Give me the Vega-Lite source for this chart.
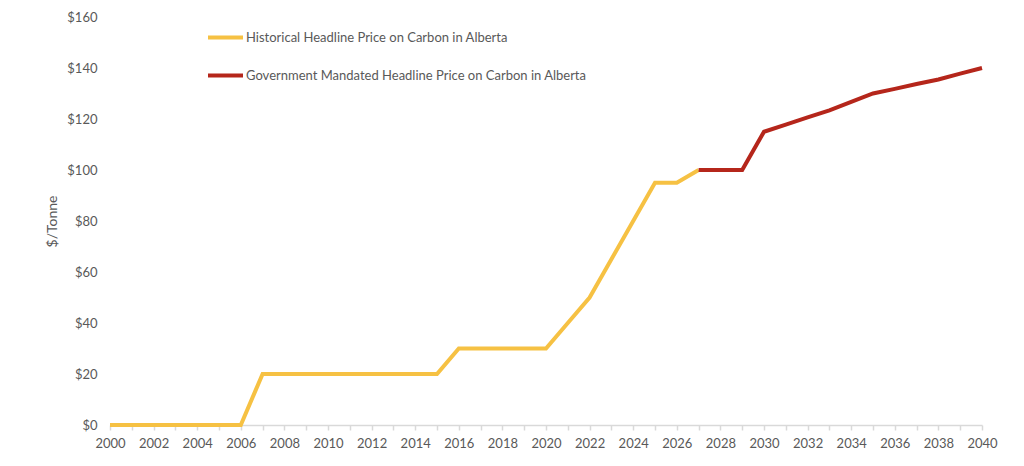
{
  "$schema": "https://vega.github.io/schema/vega-lite/v6.json",
  "description": "Headline price on carbon in Alberta, historical and government mandated, 2000-2040.",
  "width": 872,
  "height": 408,
  "autosize": {"type": "none"},
  "padding": {"left": 110, "top": 17, "right": 42, "bottom": 41},
  "background": "#ffffff",
  "data": {
    "values": [
      {"series": "Historical Headline Price on Carbon in Alberta", "year": 2000, "price": 0},
      {"series": "Historical Headline Price on Carbon in Alberta", "year": 2001, "price": 0},
      {"series": "Historical Headline Price on Carbon in Alberta", "year": 2002, "price": 0},
      {"series": "Historical Headline Price on Carbon in Alberta", "year": 2003, "price": 0},
      {"series": "Historical Headline Price on Carbon in Alberta", "year": 2004, "price": 0},
      {"series": "Historical Headline Price on Carbon in Alberta", "year": 2005, "price": 0},
      {"series": "Historical Headline Price on Carbon in Alberta", "year": 2006, "price": 0},
      {"series": "Historical Headline Price on Carbon in Alberta", "year": 2007, "price": 20},
      {"series": "Historical Headline Price on Carbon in Alberta", "year": 2008, "price": 20},
      {"series": "Historical Headline Price on Carbon in Alberta", "year": 2009, "price": 20},
      {"series": "Historical Headline Price on Carbon in Alberta", "year": 2010, "price": 20},
      {"series": "Historical Headline Price on Carbon in Alberta", "year": 2011, "price": 20},
      {"series": "Historical Headline Price on Carbon in Alberta", "year": 2012, "price": 20},
      {"series": "Historical Headline Price on Carbon in Alberta", "year": 2013, "price": 20},
      {"series": "Historical Headline Price on Carbon in Alberta", "year": 2014, "price": 20},
      {"series": "Historical Headline Price on Carbon in Alberta", "year": 2015, "price": 20},
      {"series": "Historical Headline Price on Carbon in Alberta", "year": 2016, "price": 30},
      {"series": "Historical Headline Price on Carbon in Alberta", "year": 2017, "price": 30},
      {"series": "Historical Headline Price on Carbon in Alberta", "year": 2018, "price": 30},
      {"series": "Historical Headline Price on Carbon in Alberta", "year": 2019, "price": 30},
      {"series": "Historical Headline Price on Carbon in Alberta", "year": 2020, "price": 30},
      {"series": "Historical Headline Price on Carbon in Alberta", "year": 2021, "price": 40},
      {"series": "Historical Headline Price on Carbon in Alberta", "year": 2022, "price": 50},
      {"series": "Historical Headline Price on Carbon in Alberta", "year": 2023, "price": 65},
      {"series": "Historical Headline Price on Carbon in Alberta", "year": 2024, "price": 80},
      {"series": "Historical Headline Price on Carbon in Alberta", "year": 2025, "price": 95},
      {"series": "Historical Headline Price on Carbon in Alberta", "year": 2026, "price": 95},
      {"series": "Historical Headline Price on Carbon in Alberta", "year": 2027, "price": 100},
      {"series": "Government Mandated Headline Price on Carbon in Alberta", "year": 2027, "price": 100},
      {"series": "Government Mandated Headline Price on Carbon in Alberta", "year": 2028, "price": 100},
      {"series": "Government Mandated Headline Price on Carbon in Alberta", "year": 2029, "price": 100},
      {"series": "Government Mandated Headline Price on Carbon in Alberta", "year": 2030, "price": 115},
      {"series": "Government Mandated Headline Price on Carbon in Alberta", "year": 2031, "price": 117.8},
      {"series": "Government Mandated Headline Price on Carbon in Alberta", "year": 2032, "price": 120.6},
      {"series": "Government Mandated Headline Price on Carbon in Alberta", "year": 2033, "price": 123.4},
      {"series": "Government Mandated Headline Price on Carbon in Alberta", "year": 2034, "price": 126.7},
      {"series": "Government Mandated Headline Price on Carbon in Alberta", "year": 2035, "price": 130},
      {"series": "Government Mandated Headline Price on Carbon in Alberta", "year": 2036, "price": 131.8},
      {"series": "Government Mandated Headline Price on Carbon in Alberta", "year": 2037, "price": 133.7},
      {"series": "Government Mandated Headline Price on Carbon in Alberta", "year": 2038, "price": 135.5},
      {"series": "Government Mandated Headline Price on Carbon in Alberta", "year": 2039, "price": 137.8},
      {"series": "Government Mandated Headline Price on Carbon in Alberta", "year": 2040, "price": 140}
    ]
  },
  "mark": {"type": "line", "strokeWidth": 4, "strokeJoin": "miter"},
  "encoding": {
    "x": {
      "field": "year",
      "type": "quantitative",
      "scale": {"domain": [2000, 2040], "nice": false, "zero": false},
      "axis": {
        "title": null,
        "values": [2000, 2001, 2002, 2003, 2004, 2005, 2006, 2007, 2008, 2009, 2010, 2011, 2012, 2013, 2014, 2015, 2016, 2017, 2018, 2019, 2020, 2021, 2022, 2023, 2024, 2025, 2026, 2027, 2028, 2029, 2030, 2031, 2032, 2033, 2034, 2035, 2036, 2037, 2038, 2039, 2040],
        "labelExpr": "datum.value % 2 == 0 ? '' + datum.value : ''",
        "grid": false,
        "domainColor": "#d9d9d9",
        "domainWidth": 1.5,
        "tickColor": "#d9d9d9",
        "tickSize": 5,
        "tickWidth": 1.5,
        "labelPadding": 7,
        "labelFlush": false,
        "labelOverlap": false
      }
    },
    "y": {
      "field": "price",
      "type": "quantitative",
      "scale": {"domain": [0, 160], "nice": false},
      "axis": {
        "title": "$/Tonne",
        "values": [0, 20, 40, 60, 80, 100, 120, 140, 160],
        "format": "$.0f",
        "grid": false,
        "domain": false,
        "ticks": false,
        "labelPadding": 13,
        "titlePadding": 7,
        "titleFontSize": 14,
        "titleFontWeight": "normal"
      }
    },
    "color": {
      "field": "series",
      "type": "nominal",
      "scale": {
        "domain": ["Historical Headline Price on Carbon in Alberta", "Government Mandated Headline Price on Carbon in Alberta"],
        "range": ["#f6c143", "#b5261b"]
      },
      "legend": {
        "title": null,
        "orient": "none",
        "legendX": 96,
        "legendY": 1,
        "symbolType": "stroke",
        "symbolSize": 1225,
        "symbolStrokeWidth": 4,
        "labelOffset": 1,
        "rowPadding": 10,
        "padding": 0
      }
    }
  },
  "config": {
    "font": "Lato",
    "view": {"stroke": null},
    "axis": {
      "labelFont": "Lato",
      "labelFontSize": 13,
      "labelColor": "#595959",
      "titleFont": "Lato",
      "titleColor": "#595959"
    },
    "legend": {
      "labelFont": "Lato",
      "labelFontSize": 13,
      "labelColor": "#595959",
      "labelLimit": 500
    }
  }
}
